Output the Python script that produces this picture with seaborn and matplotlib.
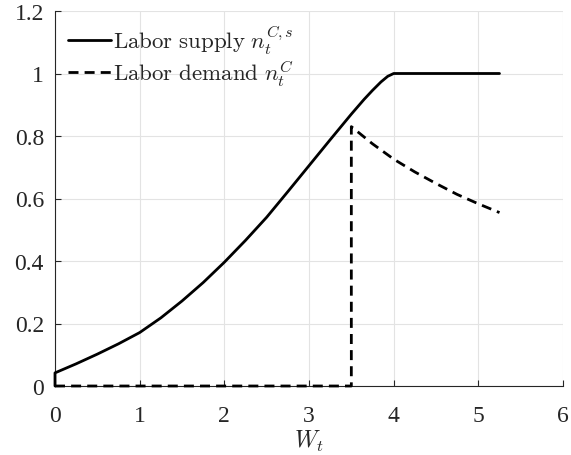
import matplotlib
matplotlib.use('Agg')
import matplotlib.pyplot as plt
import seaborn as sns
import pandas as pd

# Data
supply_w = [0, 0, 0.25, 0.5, 0.75, 1, 1.25, 1.5, 1.75, 2, 2.25, 2.5, 2.75, 3, 3.25, 3.5,
            3.65, 3.75, 3.85, 3.93, 4, 4.5, 5, 5.25]
supply_n = [0, 0.042, 0.071, 0.102, 0.135, 0.171, 0.218, 0.272, 0.331, 0.396, 0.466, 0.54,
            0.622, 0.705, 0.788, 0.87, 0.917, 0.946, 0.973, 0.991, 1.0, 1.0, 1.0, 1.0]

demand_w = [0, 3.5, 3.5, 3.75, 4, 4.25, 4.5, 4.75, 5, 5.25]
demand_n = [0, 0, 0.83, 0.775, 0.726, 0.685, 0.648, 0.613, 0.583, 0.555]

x_ticks = [0, 1, 2, 3, 4, 5, 6]
y_ticks = [0, 0.2, 0.4, 0.6, 0.8, 1.0, 1.2]
y_labels = ['0', '0.2', '0.4', '0.6', '0.8', '1', '1.2']

sns.set_theme(style='ticks')
plt.rcParams['font.family'] = ['Liberation Serif', 'DejaVu Serif']
plt.rcParams['mathtext.fontset'] = 'cm'

fig, ax = plt.subplots(figsize=(5.71, 4.56), dpi=100)
fig.subplots_adjust(left=55/571, right=563/571, top=1-12/456, bottom=1-387/456)

supply = pd.DataFrame({'W': supply_w, 'n': supply_n})
demand = pd.DataFrame({'W': demand_w, 'n': demand_n})

sns.lineplot(data=supply, x='W', y='n', estimator=None, sort=False, color='black',
             linewidth=2, ax=ax, label=r'$\mathrm{Labor\ supply}\ n_t^{C,s}$')
sns.lineplot(data=demand, x='W', y='n', estimator=None, sort=False, color='black',
             linewidth=2, linestyle=(0, (3.6, 2.2)), ax=ax,
             label=r'$\mathrm{Labor\ demand}\ n_t^{C}$')
# lines sitting on the axes should not be cut in half
for ln in ax.get_lines():
    ln.set_clip_on(False)
    ln.set_zorder(3)

ax.set_xlim(0, 6)
ax.set_ylim(0, 1.2)
ax.set_xticks(x_ticks)
ax.set_yticks(y_ticks)
ax.set_yticklabels(y_labels)
ax.tick_params(direction='in', length=4, width=0.8, labelsize=17, colors='#262626')
ax.tick_params(axis='x', pad=14)
ax.tick_params(axis='y', pad=8)
ax.grid(True, color='#e3e3e3', linewidth=0.8)
ax.set_axisbelow(True)
for s in ['top', 'right']:
    ax.spines[s].set_visible(False)
for s in ['left', 'bottom']:
    ax.spines[s].set_color('#262626')
    ax.spines[s].set_linewidth(0.8)

ax.set_xlabel(r'$W_t$', fontsize=17, labelpad=1)
ax.set_ylabel('')

ax.legend(loc='upper left', frameon=False, fontsize=16.5, handlelength=1.9,
          handletextpad=0.1, borderaxespad=0.15, labelspacing=0.12)

fig.savefig('out.png', dpi=100)
